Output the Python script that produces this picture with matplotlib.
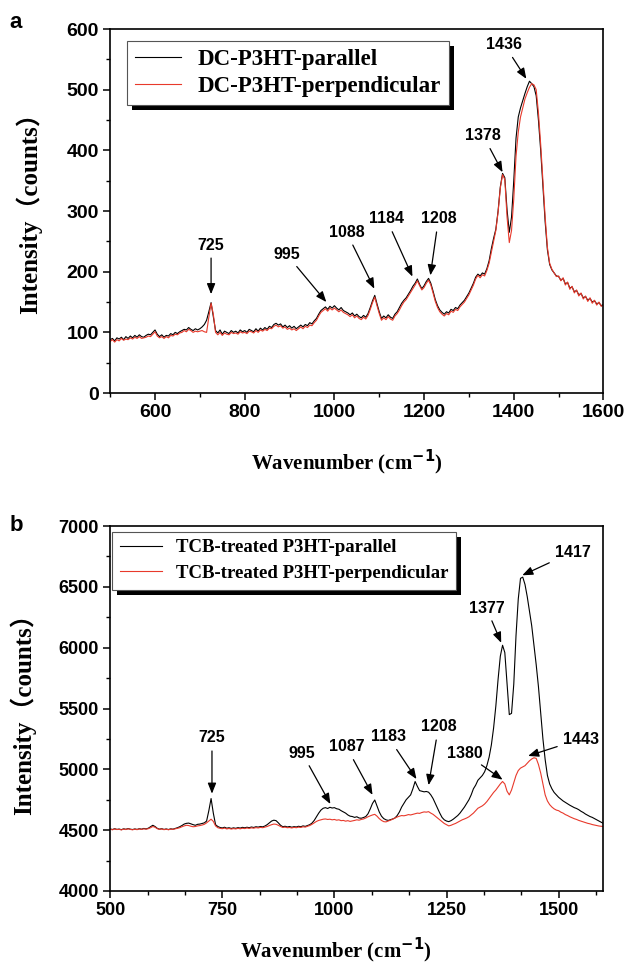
import numpy as np
import matplotlib
matplotlib.use("Agg")
import matplotlib.pyplot as plt
from matplotlib.patches import Rectangle
from matplotlib.ticker import MultipleLocator

# wavenumber grid, 5 cm-1 step
wn = np.arange(500, 1605, 5)

# panel a: DC-P3HT
dc_par = [
    88, 90, 86, 91, 89, 92, 88, 93, 90, 94, 91, 95, 92, 96, 93, 92, 95, 97, 96, 100,
    104, 97, 93, 96, 92, 95, 94, 98, 96, 100, 98, 101, 103, 105, 104, 108, 105, 103, 106, 104,
    106, 109, 113, 120, 134, 149, 126, 103, 99, 104, 97, 102, 100, 98, 103, 100, 102, 99, 104, 101,
    103, 100, 105, 103, 101, 106, 102, 107, 104, 108, 105, 110, 108, 113, 115, 112, 114, 109, 112, 108,
    111, 107, 110, 106, 109, 112, 109, 113, 111, 116, 114, 119, 123, 130, 136, 139, 142, 138, 143, 140,
    144, 140, 137, 141, 136, 134, 132, 129, 132, 127, 130, 126, 124, 128, 125, 131, 141, 152, 161, 147,
    134, 123, 127, 124, 129, 125, 123, 130, 134, 141, 148, 153, 157, 163, 169, 176, 181, 188, 179, 172,
    177, 184, 189, 181, 168, 154, 144, 137, 133, 130, 134, 132, 138, 136, 141, 139, 145, 149, 153, 159,
    165, 173, 181, 191, 196, 193, 198, 196, 205, 218, 238, 255, 270, 300, 340, 362, 355, 302, 265, 290,
    350, 420, 455, 470, 482, 494, 505, 514, 510, 505, 490, 450, 400, 340, 282, 236, 212, 203, 198, 193,
    192, 186, 189, 180, 182, 173, 175, 167, 169, 162, 164, 157, 159, 153, 156, 150, 152, 147, 149, 144,
    146,
]
dc_perp = [
    85, 88, 84, 88, 86, 90, 87, 89, 88, 91, 89, 92, 90, 93, 90, 91, 92, 94, 93, 97,
    101, 94, 91, 93, 90, 93, 91, 95, 94, 97, 96, 99, 100, 103, 101, 105, 103, 100, 102, 101,
    102, 103, 101, 100, 125, 148, 130, 100, 96, 100, 95, 99, 97, 96, 100, 98, 99, 97, 101, 99,
    100, 98, 102, 101, 99, 103, 100, 104, 102, 105, 103, 107, 106, 110, 112, 109, 111, 107, 109, 105,
    107, 104, 106, 103, 106, 109, 106, 110, 108, 112, 111, 116, 120, 127, 133, 136, 139, 135, 140, 137,
    140, 137, 134, 137, 133, 131, 129, 126, 129, 124, 127, 123, 121, 125, 122, 128, 138, 149, 158, 144,
    131, 120, 124, 121, 126, 122, 120, 127, 131, 137, 144, 150, 154, 160, 166, 172, 178, 185, 177, 170,
    174, 181, 186, 178, 165, 151, 141, 134, 130, 127, 131, 129, 135, 133, 138, 136, 142, 146, 150, 156,
    162, 170, 178, 188, 194, 190, 195, 193, 202, 214, 232, 250, 268, 298, 338, 360, 352, 290, 248, 268,
    320, 390, 430, 455, 470, 485, 495, 504, 510, 508, 500, 462, 410, 350, 290, 240, 214, 204, 198, 192,
    193, 185, 190, 178, 183, 171, 176, 165, 170, 160, 165, 155, 160, 151, 157, 148, 153, 145, 150, 143,
    145,
]

# panel b: TCB-treated P3HT
tcb_par = [
    4510, 4505, 4512, 4506, 4509, 4504, 4511, 4507, 4513, 4508, 4505, 4510, 4506, 4512, 4508, 4514, 4510, 4516, 4528, 4540,
    4530, 4515, 4508, 4512, 4506, 4510, 4505, 4511, 4508, 4514, 4520, 4528, 4538, 4550, 4556, 4558, 4552, 4545, 4540, 4548,
    4550, 4555, 4560, 4575, 4660, 4760, 4640, 4545, 4530, 4522, 4518, 4524, 4516, 4520, 4514, 4519, 4515, 4521, 4517, 4523,
    4519, 4524, 4520, 4526, 4522, 4528, 4525, 4530, 4527, 4534, 4545, 4560, 4575, 4582, 4578, 4560, 4540, 4528, 4532, 4526,
    4530, 4524, 4529, 4526, 4532, 4528, 4535, 4531, 4538, 4545, 4558, 4580, 4610, 4640, 4665, 4680, 4685, 4678, 4688, 4682,
    4685, 4676, 4672, 4660, 4650, 4640, 4625, 4615, 4612, 4605, 4610, 4600, 4598, 4604, 4612, 4635, 4675, 4720, 4748, 4700,
    4650, 4615, 4595, 4585, 4580, 4586, 4592, 4600, 4620, 4650, 4690, 4720, 4750, 4770, 4790, 4840, 4900, 4860, 4825, 4820,
    4815, 4818, 4812, 4790, 4760, 4720, 4680, 4640, 4605, 4585, 4575, 4570, 4578, 4590, 4605, 4620, 4640, 4665, 4690, 4720,
    4750, 4790, 4840, 4870, 4910, 4930, 4950, 4980, 5030, 5100, 5200, 5340, 5520, 5740, 5930, 6020, 5960, 5700, 5450, 5460,
    5700, 6100, 6400, 6570, 6580, 6520, 6420, 6300, 6180, 6020, 5860, 5680, 5460, 5250, 5080, 4950, 4880, 4840, 4810, 4790,
    4770, 4755, 4740, 4728, 4715, 4705, 4695, 4685, 4678, 4668, 4655, 4645, 4632, 4622, 4612, 4605, 4595, 4585, 4575, 4565,
    4555,
]
tcb_perp = [
    4508, 4503, 4510, 4505, 4507, 4502, 4509, 4505, 4511, 4506, 4503, 4508, 4504, 4510, 4506, 4511, 4508, 4512, 4520, 4530,
    4524, 4512, 4506, 4510, 4504, 4508, 4503, 4509, 4506, 4511, 4515, 4520, 4528, 4535, 4540, 4538, 4532, 4528, 4530, 4535,
    4538, 4542, 4548, 4560, 4575, 4590, 4572, 4535, 4520, 4515, 4512, 4517, 4510, 4514, 4509, 4513, 4510, 4515, 4511, 4516,
    4513, 4518, 4514, 4519, 4516, 4521, 4518, 4523, 4520, 4525, 4530, 4538, 4545, 4550, 4548, 4540, 4530, 4522, 4525, 4520,
    4522, 4518, 4523, 4520, 4525, 4522, 4528, 4525, 4532, 4538, 4548, 4560, 4572, 4580, 4585, 4590, 4592, 4588, 4590, 4585,
    4588, 4582, 4585, 4578, 4580, 4574, 4578, 4572, 4576, 4580, 4585, 4582, 4588, 4592, 4600, 4610, 4618, 4625, 4630, 4615,
    4595, 4580, 4570, 4568, 4575, 4582, 4590, 4600, 4608, 4615, 4620, 4618, 4622, 4628, 4625, 4630, 4635, 4640, 4638, 4645,
    4650, 4648, 4652, 4640, 4630, 4615, 4600, 4585, 4570, 4555, 4545, 4535, 4540, 4548, 4555, 4565, 4575, 4585, 4592, 4600,
    4610, 4625, 4640, 4660, 4680, 4690, 4700, 4715, 4735, 4760, 4785, 4810, 4830, 4855, 4880, 4900, 4880, 4820, 4790, 4830,
    4890, 4950, 4990, 5010, 5020, 5030, 5050, 5070, 5085, 5095, 5090, 5040, 4970, 4880, 4790, 4740, 4710, 4690, 4675, 4665,
    4660, 4648, 4640, 4628, 4620, 4610, 4602, 4594, 4588, 4580, 4574, 4568, 4562, 4556, 4552, 4546, 4542, 4538, 4534, 4532,
    4530,
]

# peak labels: (label, text x, text y, arrow tip x, arrow tip y)
peaks_a = [
    ("725", 725, 244, 725, 163),
    ("995", 893, 229, 982, 150),
    ("1088", 1027, 265, 1089, 172),
    ("1184", 1116, 287, 1174, 192),
    ("1208", 1232, 287, 1214, 194),
    ("1378", 1332, 424, 1375, 364),
    ("1436", 1379, 574, 1428, 518),
]
peaks_b = [
    ("725", 727, 5258, 727, 4800),
    ("995", 928, 5134, 991, 4715),
    ("1087", 1027, 5184, 1085, 4790),
    ("1183", 1120, 5266, 1183, 4920),
    ("1208", 1232, 5348, 1210, 4870),
    ("1377", 1339, 6326, 1372, 6040),
    ("1417", 1531, 6786, 1419, 6595),
    ("1380", 1290, 5134, 1375, 4915),
    ("1443", 1549, 5249, 1432, 5110),
]

for s in (dc_par, dc_perp, tcb_par, tcb_perp):
    assert len(s) == len(wn), len(s)

SANS = ["Liberation Sans Narrow", "Liberation Sans", "DejaVu Sans"]
SERIF = ["Liberation Serif", "Noto Sans CJK SC", "DejaVu Serif"]
RED = "#e8392b"

fig = plt.figure(figsize=(6.26, 9.65), dpi=100)
ax_a = fig.add_axes([0.176, 0.5927, 0.788, 0.3772])
ax_b = fig.add_axes([0.176, 0.0767, 0.788, 0.3782])


def style_axes(ax, xmaj, xmin, ymaj, ymin):
    ax.xaxis.set_major_locator(MultipleLocator(xmaj))
    ax.xaxis.set_minor_locator(MultipleLocator(xmin))
    ax.yaxis.set_major_locator(MultipleLocator(ymaj))
    ax.yaxis.set_minor_locator(MultipleLocator(ymin))
    ax.tick_params(which="major", direction="out", length=5, width=1.1, pad=3)
    ax.tick_params(which="minor", direction="out", length=3, width=1.0)
    for sp in ax.spines.values():
        sp.set_linewidth(1.2)
    ax.set_ylabel("Intensity（counts）", family=SERIF, fontweight="bold", fontsize=18)
    ax.set_xlabel("Wavenumber (cm$^{\\mathbf{-1}}$)", family=SERIF, fontweight="bold", fontsize=15)


def fix_ticklabels(ax, tsize):
    for lab in ax.get_xticklabels() + ax.get_yticklabels():
        lab.set_family(["Liberation Sans", "DejaVu Sans"])
        lab.set_fontweight("bold")
        lab.set_fontsize(tsize)


def add_peaks(ax, peaks):
    for lab, tx, ty, px, py in peaks:
        ax.annotate(lab, xy=(px, py), xytext=(tx, ty), ha="center", va="center",
                    family=SANS, fontweight="bold", fontsize=11.5,
                    arrowprops=dict(arrowstyle="-|>,head_length=0.55,head_width=0.22",
                                    color="black", lw=0.9, shrinkA=2, shrinkB=0))


# panel a
ax_a.plot(wn, dc_par, color="black", lw=0.8, label="DC-P3HT-parallel")
ax_a.plot(wn, dc_perp, color=RED, lw=0.8, label="DC-P3HT-perpendicular")
ax_a.set_xlim(500, 1600)
ax_a.set_ylim(0, 600)
style_axes(ax_a, 200, 100, 100, 50)
ax_a.set_xticks([600, 800, 1000, 1200, 1400, 1600])
fix_ticklabels(ax_a, 14)
ax_a.yaxis.set_label_coords(-0.138, 0.51)
ax_a.xaxis.set_label_coords(0.479, -0.151)
add_peaks(ax_a, peaks_a)
leg_a = ax_a.legend(loc="upper left", bbox_to_anchor=(0.034, 0.967), frameon=True, fancybox=False,
                    framealpha=1, prop=dict(family=SERIF, weight="bold", size=16.5), handlelength=2.0,
                    handletextpad=0.75, borderpad=0.35, labelspacing=0.25, borderaxespad=0)
leg_a.get_frame().set_edgecolor("#555555")
leg_a.get_frame().set_linewidth(0.8)

# panel b
ax_b.plot(wn, tcb_par, color="black", lw=0.8, label="TCB-treated P3HT-parallel")
ax_b.plot(wn, tcb_perp, color=RED, lw=0.8, label="TCB-treated P3HT-perpendicular")
ax_b.set_xlim(500, 1600)
ax_b.set_ylim(4000, 7000)
style_axes(ax_b, 250, 250 / 3, 500, 250)
fix_ticklabels(ax_b, 13)
ax_b.yaxis.set_label_coords(-0.150, 0.5)
ax_b.xaxis.set_label_coords(0.458, -0.122)
add_peaks(ax_b, peaks_b)
leg_b = ax_b.legend(loc="upper left", bbox_to_anchor=(0.004, 0.984), frameon=True, fancybox=False,
                    framealpha=1, prop=dict(family=SERIF, weight="bold", size=13.5), handlelength=2.25,
                    handletextpad=0.75, borderpad=0.4, labelspacing=0.45, borderaxespad=0)
leg_b.get_frame().set_edgecolor("#555555")
leg_b.get_frame().set_linewidth(0.8)

fig.text(0.015, 0.988, "a", family=["Liberation Sans", "DejaVu Sans"], fontweight="bold", fontsize=16, va="top")
fig.text(0.015, 0.466, "b", family=["Liberation Sans", "DejaVu Sans"], fontweight="bold", fontsize=16, va="top")

# black drop shadows behind the legends
fig.canvas.draw()
for ax, leg in ((ax_a, leg_a), (ax_b, leg_b)):
    bb = leg.get_window_extent()
    inv = ax.transAxes.inverted()
    x0, y0 = inv.transform((bb.x0 + 5, bb.y0 - 5))
    x1, y1 = inv.transform((bb.x1 + 5, bb.y1 - 5))
    ax.add_patch(Rectangle((x0, y0), x1 - x0, y1 - y0, transform=ax.transAxes,
                           facecolor="black", edgecolor="none", zorder=4.5, clip_on=False))

fig.savefig("out.png", dpi=100)
